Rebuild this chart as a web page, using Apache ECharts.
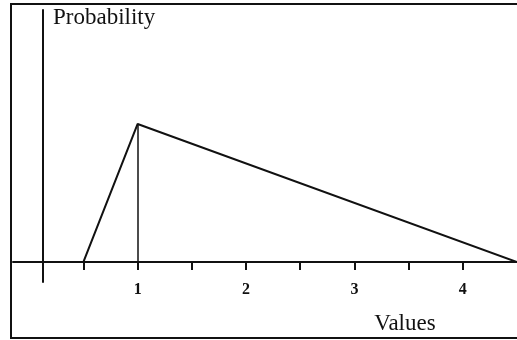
<!DOCTYPE html>
<html>
<head>
<meta charset="utf-8">
<script src="https://cdn.jsdelivr.net/npm/echarts@6/dist/echarts.min.js"></script>
<style>html,body{margin:0;padding:0;background:#fff;}#c{width:517px;height:340px;}</style>
</head>
<body>
<div id="c"></div>
<script>
// Triangular distribution: min, mode, max and density values
var xValues = [0.5, 1, 4.5];
var probValues = [0, 0.5, 0];
var tickValues = [0.5, 1, 1.5, 2, 2.5, 3, 3.5, 4];
var labelValues = [1, 2, 3, 4];
var xName = 'Values';
var yName = 'Probability';

var serif = '"Liberation Serif", "DejaVu Serif", serif';
var lineData = xValues.map(function (x, i) { return [x, probValues[i]]; });
var peakIdx = probValues.indexOf(Math.max.apply(null, probValues));
var peak = lineData[peakIdx];

var chart = echarts.init(document.getElementById('c'), null, {renderer: 'canvas'});
chart.setOption({
  backgroundColor: '#fff',
  animation: false,
  grid: {left: 13, right: 0, top: 10, bottom: 58, containLabel: false, outerBoundsMode: 'none'},
  graphic: [{
    type: 'rect', silent: true,
    shape: {x: 11, y: 4, width: 520, height: 334},
    style: {fill: 'none', stroke: '#111', lineWidth: 2}
  }, {
    type: 'text', silent: true,
    x: 405, y: 324,
    style: {text: xName, font: '23px ' + serif, fill: '#111', textAlign: 'center', textVerticalAlign: 'middle'}
  }],
  xAxis: {
    type: 'value', min: -0.15, max: 4.5,
    axisLine: {onZero: true, lineStyle: {color: '#111', width: 2}},
    axisTick: {show: true, inside: false, length: 8, customValues: tickValues, lineStyle: {color: '#111', width: 2}},
    axisLabel: {customValues: labelValues, margin: 0, fontFamily: serif, fontSize: 16, fontWeight: 'bold', color: '#111'},
    splitLine: {show: false}
  },
  yAxis: {
    type: 'value', min: -0.0725, max: 0.913,
    offset: -30,
    name: yName, nameLocation: 'end', nameGap: 4,
    nameTextStyle: {fontFamily: serif, fontSize: 23, color: '#111', align: 'left', verticalAlign: 'top', padding: [0, 0, 0, 10]},
    axisLine: {show: true, onZero: false, lineStyle: {color: '#111', width: 2}},
    axisTick: {show: false},
    axisLabel: {show: false},
    splitLine: {show: false}
  },
  series: [{
    type: 'line',
    data: lineData,
    showSymbol: false,
    lineStyle: {color: '#111', width: 2},
    markLine: {
      silent: true, symbol: 'none',
      label: {show: false},
      lineStyle: {color: '#111', width: 1.5, type: 'solid'},
      data: [[{coord: [peak[0], 0]}, {coord: [peak[0], peak[1]]}]]
    }
  }]
});
</script>
</body>
</html>
